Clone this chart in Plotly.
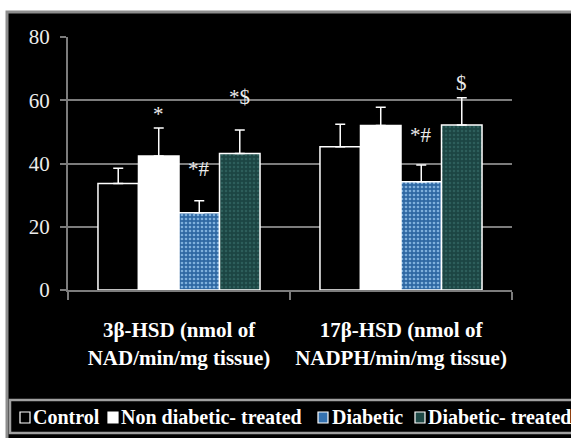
import plotly.graph_objects as go

# ---- data -------------------------------------------------------------
categories = ["3β-HSD (nmol of<br>NAD/min/mg tissue)",
              "17β-HSD (nmol of<br>NADPH/min/mg tissue)"]
groups = ["Control", "Non diabetic- treated", "Diabetic", "Diabetic- treated"]

control = [33.7, 45.3]
control_sd = [4.8, 7.1]
non_diabetic_treated = [42.4, 52.0]
non_diabetic_treated_sd = [8.8, 5.8]
diabetic = [24.4, 34.2]
diabetic_sd = [3.8, 5.3]
diabetic_treated = [43.2, 52.2]
diabetic_treated_sd = [7.4, 8.6]

# significance marks per category, one per group
sig_labels = [["", "*", "*#", "*$"],
              ["", "", "*#", "$"]]

yticks = [0, 20, 40, 60, 80]

# ---- styling ----------------------------------------------------------
W, H = 571, 438
L, R, T, B = 68, 59, 37, 148
PW, PH = W - L - R, H - T - B

SERIF = "Liberation Serif"
GRID = "#7c7c7c"
TXT = "#ececec"

styles = [
    dict(color="black"),
    dict(color="white"),
    dict(color="#2f68a3",
         pattern=dict(shape=".", fgcolor="#7fb0dc", bgcolor="#2f68a3",
                      size=4, solidity=0.35, fillmode="replace")),
    dict(color="#1e4947",
         pattern=dict(shape=".", fgcolor="#2d5e5b", bgcolor="#1c4543",
                      size=4, solidity=0.3, fillmode="replace")),
]
swatch_fill = ["black", "white", "#3572b0", "#1e4947"]

# vertical offsets (px) of significance marks above the error caps
sig_shift = [[0, 0, 18, 19], [0, 0, 16, 1]]

series = [(control, control_sd), (non_diabetic_treated, non_diabetic_treated_sd),
          (diabetic, diabetic_sd), (diabetic_treated, diabetic_treated_sd)]

fig = go.Figure()
for name, (vals, sd), st in zip(groups, series, styles):
    fig.add_trace(go.Bar(
        x=categories, y=vals, name=name,
        marker=dict(**st, line=dict(color="white", width=1.5)),
        error_y=dict(type="data", array=sd, arrayminus=[0] * len(sd),
                     symmetric=False, color="white", thickness=1.5, width=5),
        showlegend=False,
    ))

bargap = 0.27
bw = (1 - bargap) / len(groups)


def px2x(px):
    return (px - L) / PW


def px2y(py):
    return (H - B - py) / PH


annotations = []
for ci in range(len(categories)):
    for gi, (vals, sd) in enumerate(series):
        lab = sig_labels[ci][gi]
        if not lab:
            continue
        annotations.append(dict(
            x=ci + (gi - (len(groups) - 1) / 2) * bw, xref="x",
            y=vals[ci] + sd[ci], yref="y", yanchor="bottom",
            yshift=sig_shift[ci][gi],
            text=lab, showarrow=False,
            font=dict(family=SERIF, size=21, color=TXT),
        ))

shapes = [
    # outer panel
    dict(type="rect", xref="paper", yref="paper",
         x0=px2x(7), x1=px2x(590), y0=px2y(460), y1=px2y(12),
         fillcolor="black", line=dict(color="#8e8e8e", width=3), layer="below"),
    # legend box
    dict(type="rect", xref="paper", yref="paper",
         x0=px2x(10), x1=px2x(590), y0=px2y(433), y1=px2y(400),
         fillcolor="black", line=dict(color="#a0a0a0", width=2.5), layer="below"),
]

# legend row
sw_left = [20, 108, 318, 415]
txt_left = [31, 119, 330, 426]
for name, fill, sx, tx in zip(groups, swatch_fill, sw_left, txt_left):
    shapes.append(dict(type="rect", xref="paper", yref="paper",
                       x0=px2x(sx), x1=px2x(sx + 10),
                       y0=px2y(423), y1=px2y(412),
                       fillcolor=fill, line=dict(color="white", width=1.2)))
    annotations.append(dict(
        x=px2x(tx), xref="paper", xanchor="left",
        y=px2y(417), yref="paper", yanchor="middle",
        text=name, showarrow=False,
        font=dict(family=SERIF, size=20, color="white", weight="bold"),
    ))

fig.update_layout(
    width=W, height=H,
    margin=dict(l=L, r=R, t=T, b=B, pad=0),
    paper_bgcolor="white", plot_bgcolor="black",
    barmode="group", bargap=bargap, bargroupgap=0,
    showlegend=False,
    shapes=shapes, annotations=annotations,
    xaxis=dict(
        showline=True, linecolor=GRID, linewidth=2,
        ticks="outside", tickson="boundaries", ticklen=8,
        tickcolor=GRID, tickwidth=2,
        tickfont=dict(family=SERIF, size=21, color="white", weight="bold"),
        ticklabelstandoff=20, showgrid=False,
    ),
    yaxis=dict(
        range=[0, 80], tickvals=yticks,
        showline=True, linecolor=GRID, linewidth=2,
        ticks="outside", ticklen=6, tickcolor=GRID, tickwidth=2,
        showgrid=True, gridcolor=GRID, gridwidth=2, zeroline=False,
        tickfont=dict(family=SERIF, size=21, color=TXT),
        ticklabelstandoff=6,
    ),
)

fig.write_html("out.html")
